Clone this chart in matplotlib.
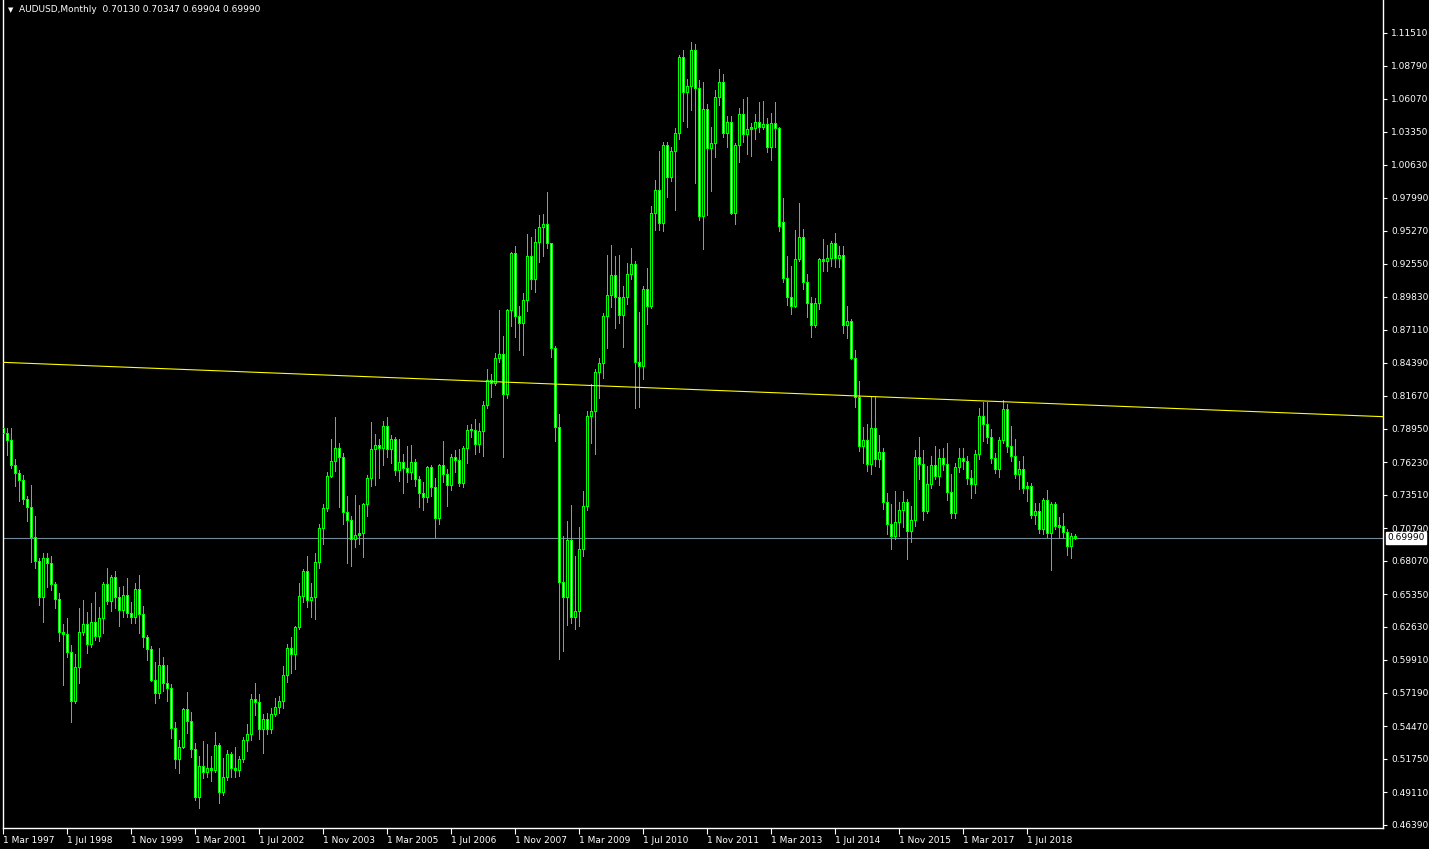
import matplotlib
matplotlib.use("Agg")
import matplotlib.pyplot as plt
import matplotlib.transforms as mtransforms

# ---------------- data (monthly AUDUSD, Mar 1997 .. Jul 2019) ----------------
opens = [
    .7900, .7860, .7805, .7600, .7535, .7477, .7321, .7255, .7008, .6811,
    .6515, .6835, .6790, .6620, .6500, .6227, .6210, .6063, .5660, .5940, .6227, .6293,
    .6130, .6310, .6190, .6340, .6622, .6480, .6680, .6515, .6410, .6530, .6384, .6350,
    .6580, .6375, .6186, .6088, .5833, .5726, .5956, .5808, .5767, .5438, .5183, .5280,
    .5594, .5496, .5266, .4870, .5126, .5077, .5110, .5095, .5298, .4912, .5035, .5224,
    .5110, .5095, .5184, .5340, .5389, .5676, .5650, .5430, .5512, .5430, .5553, .5610,
    .5660, .5874, .6096, .6047, .6268, .6523, .6729, .6490, .6515, .6803, .7082, .7247,
    .7510, .7633, .7740, .7666, .7214, .7148, .6992, .7024, .7040, .7279, .7493, .7732,
    .7760, .7740, .7920, .7732, .7814, .7560, .7625, .7575, .7545, .7625, .7485, .7370,
    .7337, .7584, .7419, .7164, .7600, .7526, .7436, .7666, .7641, .7452, .7740, .7888,
    .7890, .7773, .7880, .8093, .8299, .8274, .8479, .8510, .8184, .8874, .9343, .8825,
    .8767, .8956, .9318, .9129, .9433, .9556, .9580, .9425, .8562, .7912, .6638, .6515,
    .6980, .6350, .6400, .6909, .7263, .8003, .8045, .8364, .8438, .8825, .8997, .9162,
    .8981, .8830, .8981, .9170, .9252, .8447, .8410, .9047, .8910, .9671, .9860, .9590,
    1.0230, .9967, 1.0180, 1.0329, 1.0954, 1.0666, 1.0715, 1.1011, 1.0699, .9647, 1.0526, 1.0206,
    1.0250, 1.0625, 1.0748, 1.0329, 1.0420, .9671, 1.0230, 1.0485, 1.0320, 1.0362, 1.0370, 1.0420,
    1.0380, 1.0400, 1.0214, 1.0411, 1.0370, .9600, .9137, .8981, .8910, .9293, .9474, .9104,
    .8932, .8751, .8932, .9293, .9277, .9300, .9425, .9301, .9326, .8751, .8784, .8480,
    .8159, .7756, .7805, .7608, .7904, .7650, .7707, .7296, .7115, .7016, .7131, .7230,
    .7296, .7057, .7148, .7666, .7610, .7221, .7444, .7600, .7510, .7658, .7610, .7378,
    .7206, .7584, .7658, .7630, .7493, .7440, .7690, .8003, .7937, .7830, .7658, .7567,
    .7805, .8060, .7756, .7674, .7526, .7567, .7410, .7428, .7189, .7222, .7074, .7312,
    .7041, .7280, .7099, .7095, .7050, .6930, .70130,
]
highs = [
    .8003, .7905, .7900, .7650, .7560, .7518, .7345, .7436, .7180, .6835,
    .6877, .6877, .6852, .6638, .6548, .6293, .6343, .6120, .6047, .6424, .6490, .6390,
    .6466, .6556, .6433, .6638, .6753, .6696, .6729, .6597, .6605, .6670, .6474, .6630,
    .6696, .6440, .6203, .6112, .5980, .6096, .6020, .5956, .5800, .5487, .5340, .5602,
    .5734, .5570, .5315, .5208, .5331, .5307, .5208, .5405, .5310, .5192, .5257, .5240,
    .5280, .5210, .5364, .5470, .5718, .5808, .5718, .5553, .5561, .5602, .5685, .5700,
    .5948, .6129, .6186, .6277, .6630, .6745, .6852, .6630, .6877, .7115, .7280, .7540,
    .7814, .7991, .7780, .7699, .7345, .7180, .7353, .7270, .7287, .7518, .7953, .7855,
    .7814, .7962, .7995, .7847, .7830, .7814, .7690, .7756, .7764, .7650, .7510, .7461,
    .7592, .7600, .7493, .7608, .7797, .7567, .7690, .7724, .7732, .7756, .7929, .7937,
    .7978, .7945, .8126, .8389, .8348, .8520, .8874, .8660, .8880, .9351, .9400, .8907,
    .9014, .9499, .9474, .9540, .9655, .9663, .9844, .9425, .8578, .8019, .7016, .7140,
    .7271, .6852, .7090, .7386, .8044, .8266, .8389, .8480, .8850, .9326, .9409, .9318,
    .9326, .9071, .9260, .9384, .9277, .8858, .9071, .9220, .9730, .9942, 1.0180, 1.0255,
    1.0255, 1.0214, 1.0370, 1.0970, 1.1011, 1.0773, 1.1077, 1.1060, 1.0765, 1.0748, 1.0567, 1.0378,
    1.0682, 1.0855, 1.0814, 1.0469, 1.0469, 1.0247, 1.0534, 1.0608, 1.0625, 1.0411, 1.0485, 1.0584,
    1.0592, 1.0452, 1.0493, 1.0584, 1.0378, .9795, .9318, .9236, .9532, .9754, .9540, .9170,
    .8981, .8973, .9301, .9458, .9409, .9441, .9507, .9400, .9400, .8907, .8800, .8545,
    .8290, .7912, .7937, .8159, .8159, .7847, .7740, .7370, .7280, .7386, .7296, .7386,
    .7320, .7263, .7724, .7830, .7724, .7592, .7674, .7756, .7732, .7740, .7780, .7526,
    .7617, .7740, .7740, .7674, .7560, .7724, .8069, .8118, .8118, .7896, .7699, .7830,
    .8134, .8100, .7920, .7814, .7633, .7674, .7460, .7452, .7288, .7288, .7329, .7394,
    .7296, .7296, .7173, .7206, .7074, .7041, .70347,
]
lows = [
    .7790, .7680, .7575, .7430, .7305, .7280, .7140, .6805, .6755, .6450,
    .6309, .6600, .6573, .6424, .6150, .5792, .6020, .5487, .5640, .5808, .6203, .6055,
    .6100, .6160, .6150, .6219, .6457, .6400, .6424, .6277, .6351, .6350, .6300, .6300,
    .6219, .6104, .5997, .5825, .5644, .5685, .5742, .5660, .5356, .5110, .5068, .5272,
    .5397, .5200, .4846, .4780, .5028, .5035, .5003, .5077, .4822, .4887, .5010, .5035,
    .5035, .5040, .5159, .5250, .5340, .5545, .5348, .5233, .5389, .5397, .5537, .5560,
    .5602, .5816, .5891, .5923, .6252, .6474, .6433, .6350, .6334, .6754, .6950, .7220,
    .7502, .7550, .7250, .7115, .6790, .6770, .6926, .6950, .6844, .7180, .7427, .7436,
    .7493, .7600, .7666, .7617, .7518, .7469, .7370, .7460, .7485, .7427, .7255, .7230,
    .7296, .7345, .7008, .7115, .7460, .7263, .7394, .7543, .7427, .7419, .7617, .7830,
    .7690, .7707, .7674, .8069, .8159, .8257, .8447, .7666, .8151, .8740, .8650, .8545,
    .8505, .8866, .9047, .9022, .9269, .9318, .9384, .8488, .7797, .6005, .6071, .6285,
    .6300, .6252, .6277, .6852, .7230, .7781, .7690, .8151, .8315, .8562, .8899, .8726,
    .8767, .8570, .8923, .9129, .8069, .8077, .8307, .8759, .8890, .9531, .9530, .9523,
    .9803, .9935, .9696, 1.0280, 1.0428, 1.0378, 1.0518, .9918, .9614, .9375, .9655, .9852,
    1.0132, 1.0559, 1.0296, 1.0214, .9663, .9580, 1.0090, 1.0255, 1.0157, 1.0140, 1.0280, 1.0337,
    1.0362, 1.0173, 1.0107, 1.0214, .9524, .9104, .8915, .8841, .8900, .9277, .9047, .8817,
    .8652, .8734, .8882, .9195, .9195, .9236, .9228, .9228, .8685, .8644, .8472, .8077,
    .7715, .7617, .7551, .7526, .7592, .7584, .7238, .7033, .6910, .6992, .7016, .7090,
    .6828, .6967, .7099, .7485, .7148, .7206, .7411, .7485, .7436, .7559, .7312, .7160,
    .7160, .7543, .7567, .7444, .7330, .7370, .7650, .7797, .7781, .7617, .7535, .7502,
    .7781, .7707, .7633, .7493, .7403, .7370, .7304, .7164, .7115, .7041, .7033, .7008,
    .6737, .7070, .7000, .7000, .6860, .6835, .69904,
]
closes = [
    .7860, .7805, .7600, .7535, .7477, .7321, .7255, .7008, .6811, .6515,
    .6835, .6790, .6620, .6500, .6227, .6210, .6063, .5660, .5940, .6227, .6293, .6130,
    .6310, .6190, .6340, .6622, .6480, .6680, .6515, .6410, .6530, .6384, .6350, .6580,
    .6375, .6186, .6088, .5833, .5726, .5956, .5808, .5767, .5438, .5183, .5280, .5594,
    .5496, .5266, .4870, .5126, .5077, .5110, .5095, .5298, .4912, .5035, .5224, .5110,
    .5095, .5184, .5340, .5389, .5676, .5650, .5430, .5512, .5430, .5553, .5610, .5660,
    .5874, .6096, .6047, .6268, .6523, .6729, .6490, .6515, .6803, .7082, .7247, .7510,
    .7633, .7740, .7666, .7214, .7148, .6992, .7024, .7040, .7279, .7493, .7732, .7760,
    .7740, .7920, .7732, .7814, .7560, .7625, .7575, .7545, .7625, .7485, .7370, .7337,
    .7584, .7419, .7164, .7600, .7526, .7436, .7666, .7641, .7452, .7740, .7888, .7890,
    .7773, .7880, .8093, .8299, .8274, .8479, .8510, .8184, .8874, .9343, .8825, .8767,
    .8956, .9318, .9129, .9433, .9556, .9580, .9425, .8562, .7912, .6638, .6515, .6980,
    .6350, .6400, .6909, .7263, .8003, .8045, .8364, .8438, .8825, .8997, .9162, .8981,
    .8830, .8981, .9170, .9252, .8447, .8410, .9047, .8910, .9671, .9860, .9590, 1.0230,
    .9967, 1.0180, 1.0329, 1.0954, 1.0666, 1.0715, 1.1011, 1.0699, .9647, 1.0526, 1.0206, 1.0250,
    1.0625, 1.0748, 1.0329, 1.0420, .9671, 1.0230, 1.0485, 1.0320, 1.0362, 1.0370, 1.0420, 1.0380,
    1.0400, 1.0214, 1.0411, 1.0370, .9565, .9137, .8981, .8910, .9293, .9474, .9104, .8932,
    .8751, .8932, .9293, .9277, .9300, .9425, .9301, .9326, .8751, .8784, .8480, .8159,
    .7756, .7805, .7608, .7904, .7650, .7707, .7296, .7115, .7016, .7131, .7230, .7296,
    .7057, .7148, .7666, .7610, .7221, .7444, .7600, .7510, .7658, .7610, .7378, .7206,
    .7584, .7658, .7630, .7493, .7440, .7690, .8003, .7937, .7830, .7658, .7567, .7805,
    .8060, .7756, .7674, .7526, .7567, .7410, .7428, .7189, .7222, .7074, .7312, .7041,
    .7280, .7099, .7095, .7050, .6930, .7013, .69990,
]

date_labels = ["1 Mar 1997", "1 Jul 1998", "1 Nov 1999", "1 Mar 2001", "1 Jul 2002",
               "1 Nov 2003", "1 Mar 2005", "1 Jul 2006", "1 Nov 2007", "1 Mar 2009",
               "1 Jul 2010", "1 Nov 2011", "1 Mar 2013", "1 Jul 2014", "1 Nov 2015",
               "1 Mar 2017", "1 Jul 2018"]
date_label_bars = [0, 16, 32, 48, 64, 80, 96, 112, 128, 144, 160, 176, 192, 208, 224, 240, 256]

price_labels = ["1.11510", "1.08790", "1.06070", "1.03350", "1.00630", "0.97990",
                "0.95270", "0.92550", "0.89830", "0.87110", "0.84390", "0.81670",
                "0.78950", "0.76230", "0.73510", "0.70790", "0.68070", "0.65350",
                "0.62630", "0.59910", "0.57190", "0.54470", "0.51750", "0.49110", "0.46390"]
price_top, price_bottom = 1.11510, 0.46390

current_price = 0.69990
trend_bars = [0, 268]
trend_prices = [0.8443, 0.8096]

header = "AUDUSD,Monthly  0.70130 0.70347 0.69904 0.69990"

# ---------------- figure ----------------
W, H = 1429, 849
fig = plt.figure(figsize=(W / 100, H / 100), dpi=100, facecolor="black")
ax = fig.add_axes([3 / W, (H - 828) / H, 1380 / W, 828 / H])
ax.set_facecolor("black")

pxu = 792.0 / (price_top - price_bottom)   # pixels per price unit
ax.set_ylim(price_bottom - 3 / pxu, price_top + 33 / pxu)
x0, x1 = -0.075, 344.925
ax.set_xlim(x0, x1)

GREEN = "#00FF00"
PX = 0.72  # one pixel in points at 100 dpi
n = len(closes)
xs = list(range(n))

# wicks
ax.vlines(xs, lows, highs, colors=GREEN, linewidth=PX, antialiased=False, zorder=2,
          capstyle="butt")

# bodies: 3 px green outline, 1 px inner fill (black = up, white = down)
bx, bb, bt = [], [], []
ix, ib, it, ic = [], [], [], []
for i in range(n):
    o, c = opens[i], closes[i]
    lo, hi = min(o, c), max(o, c)
    if hi - lo < 1.0 / pxu:
        lo, hi = lo - 0.5 / pxu, hi + 0.5 / pxu
    bx.append(i); bb.append(lo); bt.append(hi)
    if hi - lo > 2.2 / pxu:
        ix.append(i); ib.append(lo + 1.0 / pxu); it.append(hi - 1.0 / pxu)
        ic.append("black" if c >= o else "white")
outer = ax.vlines(bx, bb, bt, colors=GREEN, linewidth=3 * PX, antialiased=False, zorder=3)
outer.set_capstyle("butt")
inner = ax.vlines(ix, ib, it, colors=ic, linewidth=PX, antialiased=False, zorder=4)
inner.set_capstyle("butt")

# trend line (extended across the whole chart)
slope = (trend_prices[1] - trend_prices[0]) / (trend_bars[1] - trend_bars[0])
ax.plot([x0, x1], [trend_prices[0] + slope * (x0 - trend_bars[0]),
                   trend_prices[0] + slope * (x1 - trend_bars[0])],
        color="#FFFF00", linewidth=0.8, zorder=5)

# current price line
ax.axhline(current_price, color="#778899", linewidth=0.8, zorder=1)

# spines
for s in ["left", "bottom", "right"]:
    ax.spines[s].set_color("white")
    ax.spines[s].set_linewidth(1.0)
ax.spines["top"].set_visible(False)

# y axis on the right
step = (price_top - price_bottom) / (len(price_labels) - 1)
yt = [price_top - k * step for k in range(len(price_labels))]
ax.yaxis.tick_right()
ax.set_yticks(yt)
ax.set_yticklabels(price_labels)
ax.tick_params(axis="y", colors="white", length=3, width=0.8, direction="out",
               labelsize=6.5, pad=3)

# x axis
ax.set_xticks(date_label_bars)
ax.set_xticklabels(date_labels, ha="left")
ax.tick_params(axis="x", colors="white", length=4, width=0.8, direction="out",
               labelsize=6.5, pad=2)

# current price box
trans = mtransforms.blended_transform_factory(ax.transAxes, ax.transData)
ax.text(1.0 + 4 / 1380, current_price, f"{current_price:.5f}", transform=trans,
        ha="left", va="center", fontsize=6.5, color="black", zorder=10,
        bbox=dict(boxstyle="square,pad=0.15", fc="white", ec="white"), clip_on=False)

# header
fig.text(8 / W, 1 - 10 / H, "▼", fontsize=5, color="white", ha="left", va="center")
fig.text(19 / W, 1 - 10 / H, header, fontsize=6.5, color="white", ha="left", va="center")

fig.savefig("out.png", dpi=100, facecolor="black")
